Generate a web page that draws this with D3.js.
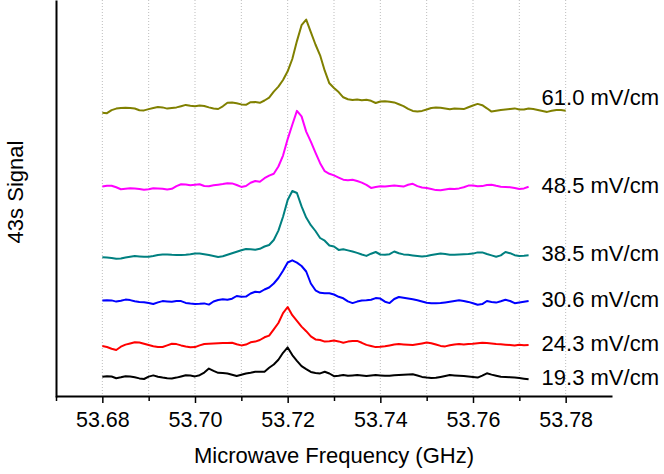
<!DOCTYPE html>
<html>
<head>
<meta charset="utf-8">
<script src="https://d3js.org/d3.v7.min.js"></script>
<style>
body { margin: 0; background: #fff; }
svg text { font-family: "Liberation Sans", Arial, sans-serif; fill: #000; }
</style>
</head>
<body>
<div id="visOut"></div>
<script>
// microwave frequency (GHz), one point every 1 MHz
var freqs = [53.680,53.681,53.682,53.683,53.684,53.685,53.686,53.687,53.688,53.689,
    53.690,53.691,53.692,53.693,53.694,53.695,53.696,53.697,53.698,53.699,
    53.700,53.701,53.702,53.703,53.704,53.705,53.706,53.707,53.708,53.709,
    53.710,53.711,53.712,53.713,53.714,53.715,53.716,53.717,53.718,53.719,
    53.720,53.721,53.722,53.723,53.724,53.725,53.726,53.727,53.728,53.729,
    53.730,53.731,53.732,53.733,53.734,53.735,53.736,53.737,53.738,53.739,
    53.740,53.741,53.742,53.743,53.744,53.745,53.746,53.747,53.748,53.749,
    53.750,53.751,53.752,53.753,53.754,53.755,53.756,53.757,53.758,53.759,
    53.760,53.761,53.762,53.763,53.764,53.765,53.766,53.767,53.768,53.769,
    53.770,53.771,53.772,53.773,53.774,53.775,53.776,53.777,53.778,53.779,53.780];

// 43s signal (a.u., traces offset for clarity)
var sig193 = [20.3,20.7,20.5,18.8,19.7,20.8,20.5,19.7,18.6,18.0,20.4,21.6,20.3,19.4,18.7,18.6,19.4,20.5,21.7,21.4,
    20.6,21.8,24.4,28.4,26.2,24.2,23.9,23.5,22.2,21.0,22.2,23.5,24.3,25.3,25.3,25.3,29.2,32.5,37.2,44.2,
    49.6,41.9,36.2,30.9,27.9,25.1,24.1,23.6,25.2,23.5,20.8,21.2,22.0,21.2,21.6,22.0,21.5,21.0,21.4,21.9,
    21.6,21.2,21.3,21.8,22.1,22.3,22.5,22.7,21.5,20.1,19.4,18.9,19.2,20.1,21.0,22.0,21.6,21.3,21.0,20.4,
    19.9,19.4,21.4,23.7,22.4,21.3,20.3,20.1,19.8,19.5,18.9,18.3,17.7];
var sig243 = [50.9,50.0,48.3,47.0,50.3,52.4,53.5,54.7,54.5,53.3,52.0,50.8,50.0,50.0,51.6,53.2,52.9,51.6,50.6,49.8,
    49.9,51.6,53.0,53.3,53.5,53.8,54.0,54.1,54.2,52.8,51.6,52.4,54.7,55.4,57.0,59.7,61.4,67.7,74.0,83.9,
    90.0,81.8,76.1,70.4,65.8,60.7,57.6,57.0,55.4,55.7,56.4,55.6,54.3,55.4,55.9,56.1,54.2,52.1,51.0,49.9,
    50.2,50.8,51.6,52.5,52.9,52.6,52.3,52.0,52.7,53.5,54.4,53.8,52.5,51.1,50.6,51.7,52.6,53.0,52.6,53.1,
    53.3,53.7,54.2,53.9,53.5,53.0,52.7,52.3,52.0,51.6,52.2,51.8,52.0];
var sig306 = [96.4,96.7,96.6,95.4,96.3,97.4,96.9,95.8,95.1,94.8,94.0,93.0,94.6,95.9,95.6,95.3,95.9,95.9,94.1,93.4,
    93.1,93.2,93.6,92.4,95.5,97.0,97.7,97.2,98.3,101.0,100.3,100.4,103.5,105.3,104.8,107.5,109.5,113.5,119.0,126.3,
    134.5,136.7,134.4,131.0,125.5,113.5,106.7,104.2,103.7,103.7,102.5,100.2,98.7,95.6,93.9,95.4,96.4,96.7,97.3,98.9,
    98.4,95.3,93.9,98.0,100.0,99.2,98.5,97.7,96.8,95.5,94.2,93.7,93.7,94.0,94.6,95.3,96.1,96.8,96.1,95.1,
    93.8,92.2,92.9,96.0,95.1,94.4,95.7,97.2,96.0,93.8,94.6,95.3,96.0];
var sig385 = [139.7,139.4,139.1,138.3,138.5,139.5,140.2,141.0,140.6,140.3,140.3,141.1,142.1,142.4,142.6,142.2,142.0,142.0,142.2,142.7,
    143.4,143.4,142.8,141.9,141.0,140.1,140.7,142.2,143.8,145.3,146.8,148.0,147.8,147.2,148.2,150.5,152.0,157.0,166.4,180.3,
    197.0,206.0,204.0,190.6,179.4,171.8,166.0,159.0,156.3,151.5,150.5,147.1,147.7,146.6,145.5,144.1,142.5,141.1,143.3,145.0,
    142.5,142.2,142.8,145.5,143.7,142.6,142.2,141.6,141.0,140.5,141.0,141.9,142.7,143.5,143.0,142.3,142.2,142.5,142.7,142.9,
    143.4,144.6,144.6,143.0,141.6,140.3,141.6,145.0,143.8,141.8,141.1,141.3,141.7];
var sig485 = [210.5,211.2,211.3,209.7,207.8,208.2,208.7,208.5,208.1,207.2,207.7,208.7,208.5,208.2,207.4,208.2,210.9,212.8,212.4,211.7,
    212.2,212.7,211.0,210.8,211.7,212.3,212.9,213.8,213.6,212.0,210.1,211.0,214.2,216.0,215.3,218.8,221.4,223.3,230.5,241.4,
    257.9,272.2,286.1,280.6,265.4,255.4,244.4,233.8,225.8,223.2,221.6,219.4,217.3,216.8,217.2,216.0,214.4,212.2,209.1,210.1,
    210.8,210.4,211.0,211.5,210.9,210.4,212.2,213.2,210.9,209.5,208.9,208.0,206.9,206.7,207.5,208.3,208.0,208.6,209.7,211.4,
    211.5,210.7,210.9,212.0,212.3,211.2,210.3,210.0,209.8,209.1,208.1,208.6,210.3];
var sig610 = [284.2,283.8,286.9,288.4,289.1,289.2,289.1,288.5,286.8,286.6,287.9,289.0,289.9,289.6,288.4,289.0,289.6,290.8,292.1,291.2,
    290.7,291.6,291.0,289.6,288.5,288.0,290.7,294.3,294.4,293.7,292.6,292.2,294.8,295.0,294.2,296.5,299.4,305.4,310.4,317.0,
    325.7,338.0,355.9,371.8,377.4,364.9,352.5,341.7,326.3,313.7,309.0,304.9,299.7,297.8,297.0,297.6,296.8,297.3,296.2,294.0,
    295.5,295.7,295.3,294.6,292.8,290.9,288.2,286.1,285.6,286.1,287.5,289.0,289.6,289.2,288.5,287.7,288.4,288.3,287.9,289.7,
    291.5,293.1,291.8,288.7,285.4,286.2,287.1,287.6,288.1,288.6,287.5,287.4,288.4,288.0,287.1,286.1,285.1,286.2,287.0,287.0,286.3];

var fieldLabels = ["19.3 mV/cm", "24.3 mV/cm", "30.6 mV/cm", "38.5 mV/cm", "48.5 mV/cm", "61.0 mV/cm"];
var lineColors = ["#000000", "#ff0000", "#0000ff", "#008080", "#ff00ff", "#808000"];
var majorTicks = [53.68, 53.70, 53.72, 53.74, 53.76, 53.78];
var minorTicks = [53.67, 53.69, 53.71, 53.73, 53.75, 53.77];
var gridTicks = [53.68, 53.69, 53.70, 53.71, 53.72, 53.73, 53.74, 53.75, 53.76, 53.77, 53.78];

function drawChart(){

    var width = 664,
        height = 474;
    var series = [sig193, sig243, sig306, sig385, sig485, sig610];

    var svg = d3.select("#visOut")
        .append("svg")
        .attr("width", width)
        .attr("height", height);

    var x = d3.scaleLinear().domain([53.67, 53.79]).range([56, 612]);
    var y = d3.scaleLinear().domain([0, 397]).range([397, 0]);

    // dotted grid at every 10 MHz
    svg.selectAll("line.grid")
        .data(gridTicks)
        .enter()
        .append("line")
        .attr("class", "grid")
        .attr("x1", function(d){ return x(d); })
        .attr("x2", function(d){ return x(d); })
        .attr("y1", 0)
        .attr("y2", 396)
        .attr("stroke", "#bdbdbd")
        .attr("stroke-width", 1)
        .attr("stroke-dasharray", "1,2");

    // traces
    var line = d3.line()
        .x(function(d, i){ return x(freqs[i]); })
        .y(function(d){ return y(d); });

    svg.selectAll("path.trace")
        .data(series)
        .enter()
        .append("path")
        .attr("class", "trace")
        .attr("d", line)
        .attr("fill", "none")
        .attr("stroke", function(d, i){ return lineColors[i]; })
        .attr("stroke-width", 2)
        .attr("stroke-linejoin", "round");

    // labels to the right of each trace
    svg.selectAll("text.lab")
        .data(series)
        .enter()
        .append("text")
        .attr("class", "lab")
        .text(function(d, i){ return fieldLabels[i]; })
        .attr("x", x(53.772) + 13)
        .attr("y", function(d, i){
            var yy = y(d[92]) + 6;
            if(i == 5) yy -= 10; //top label sits above its trace
            return yy;
        })
        .style("font-size", "22px");

    // x axis
    var xAxis = d3.axisBottom(x)
        .tickValues(majorTicks)
        .tickSize(7)
        .tickSizeOuter(0)
        .tickPadding(9)
        .tickFormat(d3.format(".2f"));
    var gx = svg.append("g")
        .attr("transform", "translate(0,396)")
        .call(xAxis);
    gx.select(".domain").attr("stroke-width", 2);
    gx.selectAll(".tick line").attr("stroke-width", 1.5);
    gx.selectAll(".tick text")
        .style("font-size", "21.5px")
        .style("font-family", "'Liberation Sans', Arial, sans-serif");

    var minorAxis = d3.axisBottom(x)
        .tickValues(minorTicks)
        .tickSize(5)
        .tickSizeOuter(0)
        .tickFormat("");
    var gm = svg.append("g")
        .attr("transform", "translate(0,396)")
        .call(minorAxis);
    gm.select(".domain").remove();
    gm.selectAll(".tick line").attr("stroke-width", 1.5);

    // y axis, no ticks
    var yAxis = d3.axisLeft(y).tickValues([]).tickSizeOuter(0);
    var gy = svg.append("g")
        .attr("transform", "translate(56,0)")
        .call(yAxis);
    gy.select(".domain").attr("stroke-width", 2);

    // axis titles
    svg.append("text")
        .attr("x", 334)
        .attr("y", 463)
        .attr("text-anchor", "middle")
        .style("font-size", "22px")
        .text("Microwave Frequency (GHz)");

    svg.append("text")
        .attr("transform", "translate(23,192) rotate(-90)")
        .attr("text-anchor", "middle")
        .style("font-size", "22px")
        .text("43s Signal");
}

drawChart();
</script>
</body>
</html>
